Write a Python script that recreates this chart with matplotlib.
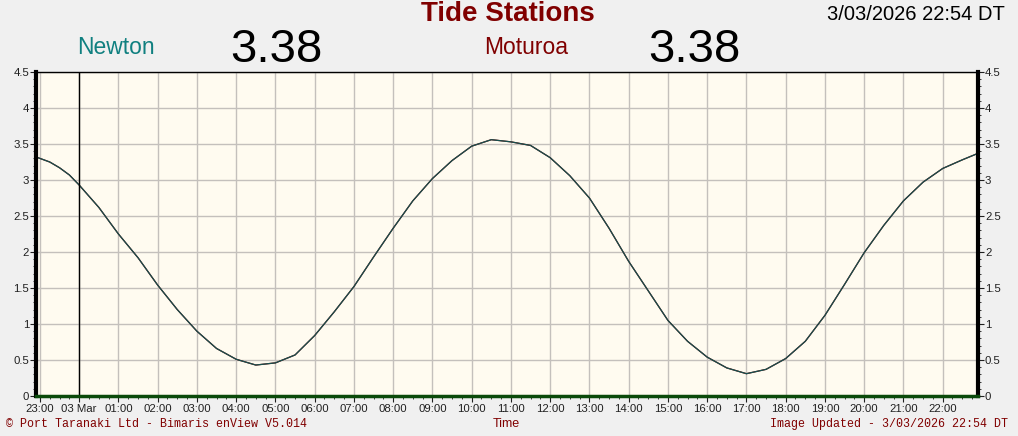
import numpy as np
import pandas as pd
import matplotlib
matplotlib.use('Agg')
import matplotlib.pyplot as plt
import matplotlib.dates as mdates
from matplotlib.ticker import FuncFormatter, MultipleLocator

# Datos (hora, nivel en m)
horas = ['2026-03-02 22:54', '2026-03-02 23:15', '2026-03-02 23:30', '2026-03-02 23:45',
         '2026-03-03 00:00', '2026-03-03 00:30', '2026-03-03 01:00', '2026-03-03 01:30',
         '2026-03-03 02:00', '2026-03-03 02:30', '2026-03-03 03:00', '2026-03-03 03:30',
         '2026-03-03 04:00', '2026-03-03 04:30', '2026-03-03 05:00', '2026-03-03 05:30',
         '2026-03-03 06:00', '2026-03-03 06:30', '2026-03-03 07:00', '2026-03-03 07:30',
         '2026-03-03 08:00', '2026-03-03 08:30', '2026-03-03 09:00', '2026-03-03 09:30',
         '2026-03-03 10:00', '2026-03-03 10:30', '2026-03-03 11:00', '2026-03-03 11:30',
         '2026-03-03 12:00', '2026-03-03 12:30', '2026-03-03 13:00', '2026-03-03 13:30',
         '2026-03-03 14:00', '2026-03-03 14:30', '2026-03-03 15:00', '2026-03-03 15:30',
         '2026-03-03 16:00', '2026-03-03 16:30', '2026-03-03 17:00', '2026-03-03 17:30',
         '2026-03-03 18:00', '2026-03-03 18:30', '2026-03-03 19:00', '2026-03-03 19:30',
         '2026-03-03 20:00', '2026-03-03 20:30', '2026-03-03 21:00', '2026-03-03 21:30',
         '2026-03-03 22:00', '2026-03-03 22:30', '2026-03-03 22:54']
newton = [3.32, 3.25, 3.17, 3.07,
          2.93, 2.62, 2.25, 1.92,
          1.54, 1.20, 0.90, 0.66,
          0.51, 0.43, 0.46, 0.57,
          0.84, 1.17, 1.52, 1.93,
          2.33, 2.71, 3.02, 3.27,
          3.47, 3.56, 3.53, 3.48,
          3.31, 3.06, 2.75, 2.33,
          1.87, 1.46, 1.05, 0.76,
          0.54, 0.39, 0.31, 0.37,
          0.52, 0.76, 1.12, 1.55,
          1.99, 2.37, 2.71, 2.97,
          3.16, 3.28, 3.37]
moturoa = list(newton)

nivel_newton = '3.38'
nivel_moturoa = '3.38'
fecha = '3/03/2026 22:54 DT'

t = pd.to_datetime(horas)
t0 = pd.Timestamp('2026-03-02 22:54')
t1 = pd.Timestamp('2026-03-03 22:54')

plt.rcParams['font.family'] = ['Liberation Sans', 'DejaVu Sans']

fig = plt.figure(figsize=(10.18, 4.36), dpi=100, facecolor='#f0f0f0')
ax = fig.add_axes([36/1018, 40/436, 942/1018, 324/436])
ax.set_facecolor('#fffbf0')

ax.plot(t, moturoa, color='#800000', lw=0.9)
ax.plot(t, newton, color='#15504f', lw=0.9)
ax.axvline(pd.Timestamp('2026-03-03 00:00'), color='black', lw=1)

ax.set_xlim(t0, t1)
ax.set_ylim(0, 4.5)

ax.yaxis.set_major_locator(MultipleLocator(0.5))
ax.yaxis.set_minor_locator(MultipleLocator(0.1))
ax.yaxis.set_major_formatter(FuncFormatter(lambda v, p: f'{v:g}'))
ax.xaxis.set_major_locator(mdates.HourLocator())
ax.xaxis.set_minor_locator(mdates.MinuteLocator(byminute=[15, 30, 45]))

def fmt_hora(x, pos):
    d = mdates.num2date(x)
    if d.hour == 0:
        return d.strftime('%d %b')
    return d.strftime('%H:%M')

ax.xaxis.set_major_formatter(FuncFormatter(fmt_hora))
ax.grid(True, which='major', color='#c4c0bc', lw=1)

ax.tick_params(axis='both', which='both', labelsize=8.2, colors='#202020', direction='out')
ax.tick_params(axis='y', which='major', length=4, right=True, labelright=True, pad=1)
ax.tick_params(axis='y', which='minor', length=2, right=True)
ax.tick_params(axis='x', which='major', length=4, pad=2)
ax.tick_params(axis='x', which='minor', length=2)

ax.spines['left'].set_linewidth(3)
ax.spines['right'].set_linewidth(3)
ax.spines['top'].set_linewidth(1)
ax.spines['bottom'].set_linewidth(2.5)
ax.spines['bottom'].set_color('#0a4a0a')

# Textos de cabecera
fig.text(508/1018, 1 - 14/436, 'Tide Stations', ha='center', va='center',
         fontsize=20, fontweight='bold', color='#800000')
fig.text(77/1018, 1 - 47/436, 'Newton', ha='left', va='center', fontsize=16.5, color='#108080')
fig.text(276/1018, 1 - 50/436, nivel_newton, ha='center', va='center', fontsize=34, color='black')
fig.text(484/1018, 1 - 47/436, 'Moturoa', ha='left', va='center', fontsize=16.5, color='#800000')
fig.text(694/1018, 1 - 50/436, nivel_moturoa, ha='center', va='center', fontsize=34, color='black')
fig.text(1005/1018, 1 - 14/436, fecha, ha='right', va='center', fontsize=14.5, color='black')

# Pie
fig.text(6/1018, 1 - 424/436, '© Port Taranaki Ltd - Bimaris enView V5.014', ha='left', va='center',
         fontsize=8.4, color='#800000', family=['Liberation Mono', 'DejaVu Sans Mono'])
fig.text(506/1018, 1 - 424/436, 'Time', ha='center', va='center', fontsize=9, color='#800000')
fig.text(1008/1018, 1 - 424/436, 'Image Updated - ' + fecha, ha='right', va='center',
         fontsize=8.4, color='#800000', family=['Liberation Mono', 'DejaVu Sans Mono'])

fig.savefig('out.png', dpi=100, facecolor=fig.get_facecolor())
